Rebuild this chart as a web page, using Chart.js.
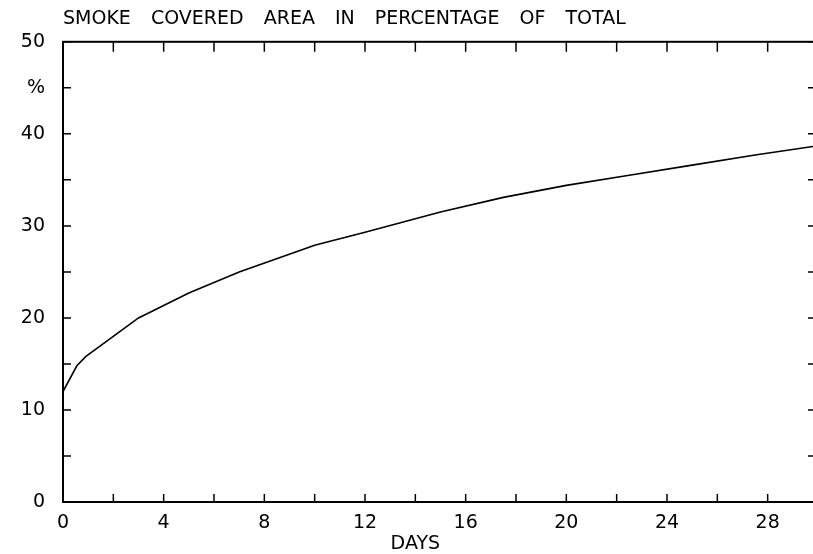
<!doctype html>
<html lang="en">
  <head>
    <meta charset="UTF-8" />
    <title>Smoke covered area</title>
    <script src="https://cdn.jsdelivr.net/npm/chart.js"></script>
    <style>
      html,
      body {
        margin: 0;
        overflow: hidden;
        background: #fff;
      }
      #wrap {
        width: 830px;
        height: 554px;
      }
    </style>
  </head>
  <body>
    <div id="wrap"><canvas id="smoke"></canvas></div>

    <script>
      // values
      const days = [0, 0.55, 0.9, 3, 5, 7, 10, 12, 15, 17.5, 20, 22.5, 25, 27.5, 30];
      const percent = [12, 14.8, 15.8, 20, 22.7, 25, 27.9, 29.3, 31.5, 33.1, 34.4, 35.5, 36.6, 37.7, 38.7];

      const xLabels = [0, 4, 8, 12, 16, 20, 24, 28];
      const yLabels = [0, 10, 20, 30, 40, 50];
      const unitLabel = "%";
      const unitAt = 45;
      const xTitle = "DAYS";
      const xTitleAt = 14;
      const title = "SMOKE COVERED AREA IN PERCENTAGE OF TOTAL";

      const font = { family: "DejaVu Sans", size: 19 };

      // ticks in the old plot style: pointing into the frame on all four sides
      const frameTicks = {
        id: "frameTicks",
        beforeDraw(chart) {
          chart.ctx.wordSpacing = "14px";
        },
        afterDatasetsDraw(chart) {
          const { ctx, chartArea: a, scales } = chart;
          const x = scales.x;
          const y = scales.y;
          ctx.save();
          ctx.strokeStyle = "#000";
          ctx.lineWidth = 1.5;
          ctx.beginPath();
          x.ticks.forEach((t) => {
            const px = x.getPixelForValue(t.value);
            ctx.moveTo(px, a.bottom);
            ctx.lineTo(px, a.bottom - 8);
            ctx.moveTo(px, a.top);
            ctx.lineTo(px, a.top + 10);
          });
          y.ticks.forEach((t) => {
            const py = y.getPixelForValue(t.value);
            ctx.moveTo(a.left, py);
            ctx.lineTo(a.left + 8, py);
            ctx.moveTo(a.right, py);
            ctx.lineTo(a.right - 10, py);
          });
          ctx.stroke();
          ctx.lineWidth = 2;
          ctx.strokeRect(a.left, a.top, a.right - a.left, a.bottom - a.top);

          ctx.fillStyle = "#000";
          ctx.font = `${font.size}px "${font.family}"`;
          ctx.textAlign = "center";
          ctx.textBaseline = "middle";
          ctx.fillText(xTitle, x.getPixelForValue(xTitleAt), a.bottom + 42);
          ctx.restore();
        },
      };

      new Chart(document.getElementById("smoke"), {
        type: "scatter",
        data: {
          datasets: [
            {
              data: days.map((d, i) => ({ x: d, y: percent[i] })),
              showLine: true,
              borderColor: "#000",
              borderWidth: 1.6,
              pointRadius: 0,
              tension: 0,
            },
          ],
        },
        options: {
          responsive: true,
          maintainAspectRatio: false,
          animation: false,
          layout: { padding: { left: 5, right: 12, top: 0, bottom: 0 } },
          plugins: {
            legend: { display: false },
            tooltip: { enabled: false },
            title: {
              display: true,
              text: title,
              align: "start",
              fullSize: false,
              color: "#000",
              font: { ...font, weight: "normal" },
              padding: { top: 8, bottom: 11 },
            },
          },
          scales: {
            x: {
              type: "linear",
              min: 0,
              max: 30,
              grid: { display: false, drawTicks: false, tickLength: 0 },
              border: { display: false },
              afterFit: (s) => {
                s.height = 52;
              },
              ticks: {
                stepSize: 2,
                autoSkip: false,
                maxRotation: 0,
                padding: 10,
                color: "#000",
                font: font,
                callback: (v) => (xLabels.includes(v) ? v : ""),
              },
            },
            y: {
              min: 0,
              max: 50,
              grid: { display: false, drawTicks: false, tickLength: 0 },
              border: { display: false },
              afterFit: (s) => {
                s.width = 58;
              },
              ticks: {
                stepSize: 5,
                autoSkip: false,
                padding: 18,
                color: "#000",
                font: font,
                callback: (v) =>
                  yLabels.includes(v) ? v : v === unitAt ? unitLabel : "",
              },
            },
          },
        },
        plugins: [frameTicks],
      });
    </script>
  </body>
</html>
